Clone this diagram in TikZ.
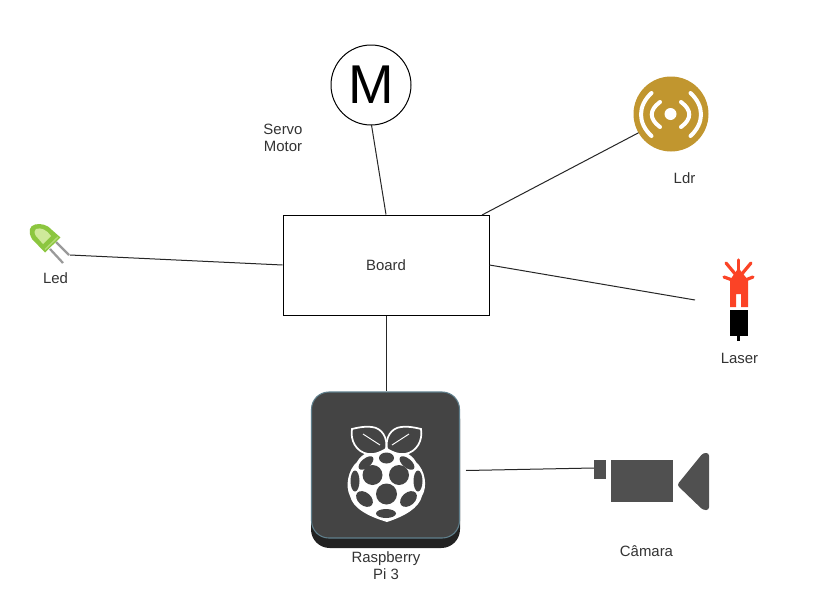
\documentclass[tikz,border=0pt]{standalone}
\usepackage{fontspec}
\setmainfont{Liberation Sans}
\definecolor{rpi}{HTML}{444444}
\definecolor{rpidark}{HTML}{222222}
\definecolor{rpiedge}{HTML}{5F7F8C}
\definecolor{ldrgold}{HTML}{C1962F}
\definecolor{laserred}{HTML}{FB4326}
\definecolor{cam}{HTML}{505050}
\definecolor{ledgreen}{HTML}{8CC63F}
\definecolor{ledlight}{HTML}{CFE99A}
\definecolor{leadgray}{HTML}{9A9A9A}
\tikzset{
  lbl/.style={font=\fontsize{11.2pt}{12.6pt}\selectfont,text=black!80,align=center,inner sep=0pt},
  conn/.style={draw=black!85,line width=0.75pt},
  boxnode/.style={draw=black,line width=0.75pt,fill=white,minimum width=154.5pt,minimum height=75pt,inner sep=0pt},
  motor/.style={circle,draw=black,line width=0.75pt,fill=white,minimum size=60pt,inner sep=0pt,font=\fontsize{41pt}{41pt}\selectfont},
  arc white/.style={draw=white,line width=3pt,line cap=round},
  ray/.style={laserred,line width=2.4pt,line cap=round},
  hole/.style={fill=rpi},
}
\begin{document}
\begin{tikzpicture}[x=0.75pt,y=-0.75pt]
\useasboundingbox[fill=white] (0,0) rectangle (826,600);
% named ends
\coordinate (ledend) at (70,255);
\coordinate (ldrend) at (640,132);
\coordinate (laserend) at (695,300);
\coordinate (boardldr) at (482,215);
\coordinate (rpiout) at (466,470.5);
\coordinate (camend) at (594,468);
\coordinate (rpitop) at (386,391);
\coordinate (motorbase) at (371.5,125);
% nodes
\node[boxnode,lbl] (board) at (386,265) {Board};
\node[motor] (motornode) at (371,85) {M};
\node[lbl] (servo) at (283,138) {Servo\\Motor};
\node[lbl] (ldrlabel) at (684.5,178) {Ldr};
\node[lbl] (ledlabel) at (55.5,278) {Led};
\node[lbl] (laserlabel) at (739.5,358) {Laser};
\node[lbl] (rpilabel) at (386,566) {Raspberry\\Pi 3};
\node[lbl] (camlabel) at (646.5,551) {Câmara};
% connectors
\draw[conn] (ledend) -- (board.west);
\draw[conn] (motorbase) -- (board.north);
\draw[conn] (ldrend) -- (boardldr);
\draw[conn] (board.east) -- (laserend);
\draw[conn] (board.south) -- (rpitop);
\draw[conn] (rpiout) -- (camend);
% LED
\draw[leadgray,line width=1.7pt] (50,249) -- (63,263);
\draw[leadgray,line width=1.7pt] (56,242) -- (69,255);
\fill[ledgreen] (45,252.5) -- (32,239) .. controls (28,232) and (29,226) .. (35,224.5) .. controls (41,223) and (48,225) .. (52,230) -- (60.5,237.5) -- cycle;
\fill[ledlight] (36,229) .. controls (41,227) and (47,230) .. (51,236) -- (43,244) -- (36,236) .. controls (34,233) and (34,230) .. (36,229) -- cycle;
\draw[ledlight!60!ledgreen,line width=1pt] (45,249.5) -- (58,237);
% LDR
\fill[ldrgold] (671,114) circle (37.5);
\fill[white] (670.5,114) circle (6);
\draw[arc white] (660,102) .. controls (649,110) and (649,119) .. (660,127);
\draw[arc white] (681,102) .. controls (692,110) and (692,119) .. (681,127);
\draw[arc white] (651.5,93) .. controls (637.5,106) and (637.5,123) .. (651.5,136);
\draw[arc white] (690.5,93) .. controls (704.5,106) and (704.5,123) .. (690.5,136);
% Laser
\fill[laserred] (730,280) -- (738.5,268) -- (748,280) -- (748,307) -- (741,307) -- (741,294) -- (736,294) -- (736,307) -- (730,307) -- cycle;
\draw[ray] (738.5,260) -- (738.5,285);
\draw[ray] (726,263) -- (738.5,278);
\draw[ray] (751,263) -- (738.5,278);
\draw[ray] (724,277) -- (735,281);
\draw[ray] (753,277) -- (743,281);
\fill[black] (730,310) rectangle (747.5,336);
\draw[black,line width=2.4pt] (738.5,334) -- (738.5,341);
% Raspberry
\fill[rpidark,rounded corners=14pt] (311,400) rectangle (460,548);
\draw[rpiedge,line width=0.8pt,fill=rpi,rounded corners=13pt] (311.5,392) rectangle (459.5,538);
\fill[white] (386.5,448) .. controls (400,448) and (412,454) .. (416,462) .. controls (425,470) and (428,486) .. (422,496) .. controls (419,508) and (405,516) .. (387,522) .. controls (367,516) and (353,508) .. (350,496) .. controls (345,486) and (348,470) .. (357,462) .. controls (361,454) and (373,448) .. (386.5,448) -- cycle;
% leaves
\draw[white,line width=1.3pt,fill=rpi] (386,449) .. controls (388,438) and (382,428) .. (372,427) .. controls (364,426) and (356,428) .. (352,429) .. controls (350,440) and (356,452) .. (368,454) .. controls (375,455) and (381,452) .. (386,449) -- cycle;
\draw[white,line width=1.3pt,fill=rpi] (387,449) .. controls (385,438) and (391,428) .. (401,427) .. controls (409,426) and (417,428) .. (421,429) .. controls (423,440) and (417,452) .. (405,454) .. controls (398,455) and (392,452) .. (387,449) -- cycle;
\draw[white,line width=0.7pt] (363,434) -- (380,445);
\draw[white,line width=0.7pt] (409,434) -- (392,445);
% drupelets
\fill[hole] (372.5,475) circle (10);
\fill[hole] (399,475) circle (10);
\fill[hole] (386.5,494) circle (10.5);
\fill[hole] (386.5,458) ellipse (7.5 and 5.5);
\fill[hole,rotate around={40:(366,463)}] (366,463) ellipse (9 and 4.5);
\fill[hole,rotate around={-40:(407,463)}] (407,463) ellipse (9 and 4.5);
\fill[hole] (355,481) ellipse (4.5 and 10.5);
\fill[hole] (418,481) ellipse (4.5 and 10.5);
\fill[hole,rotate around={-40:(364.5,499)}] (364.5,499) ellipse (9.5 and 6.5);
\fill[hole,rotate around={40:(408.5,499)}] (408.5,499) ellipse (9.5 and 6.5);
\fill[hole] (386,513.5) ellipse (10 and 4.5);
% Camera
\fill[cam] (594,460) rectangle (606,479);
\fill[cam] (611,460) rectangle (673,502);
\fill[cam,rounded corners=2pt] (709,453) -- (709,510) -- (703,510) -- (677,485) -- (703,453) -- cycle;
\end{tikzpicture}
\end{document}
